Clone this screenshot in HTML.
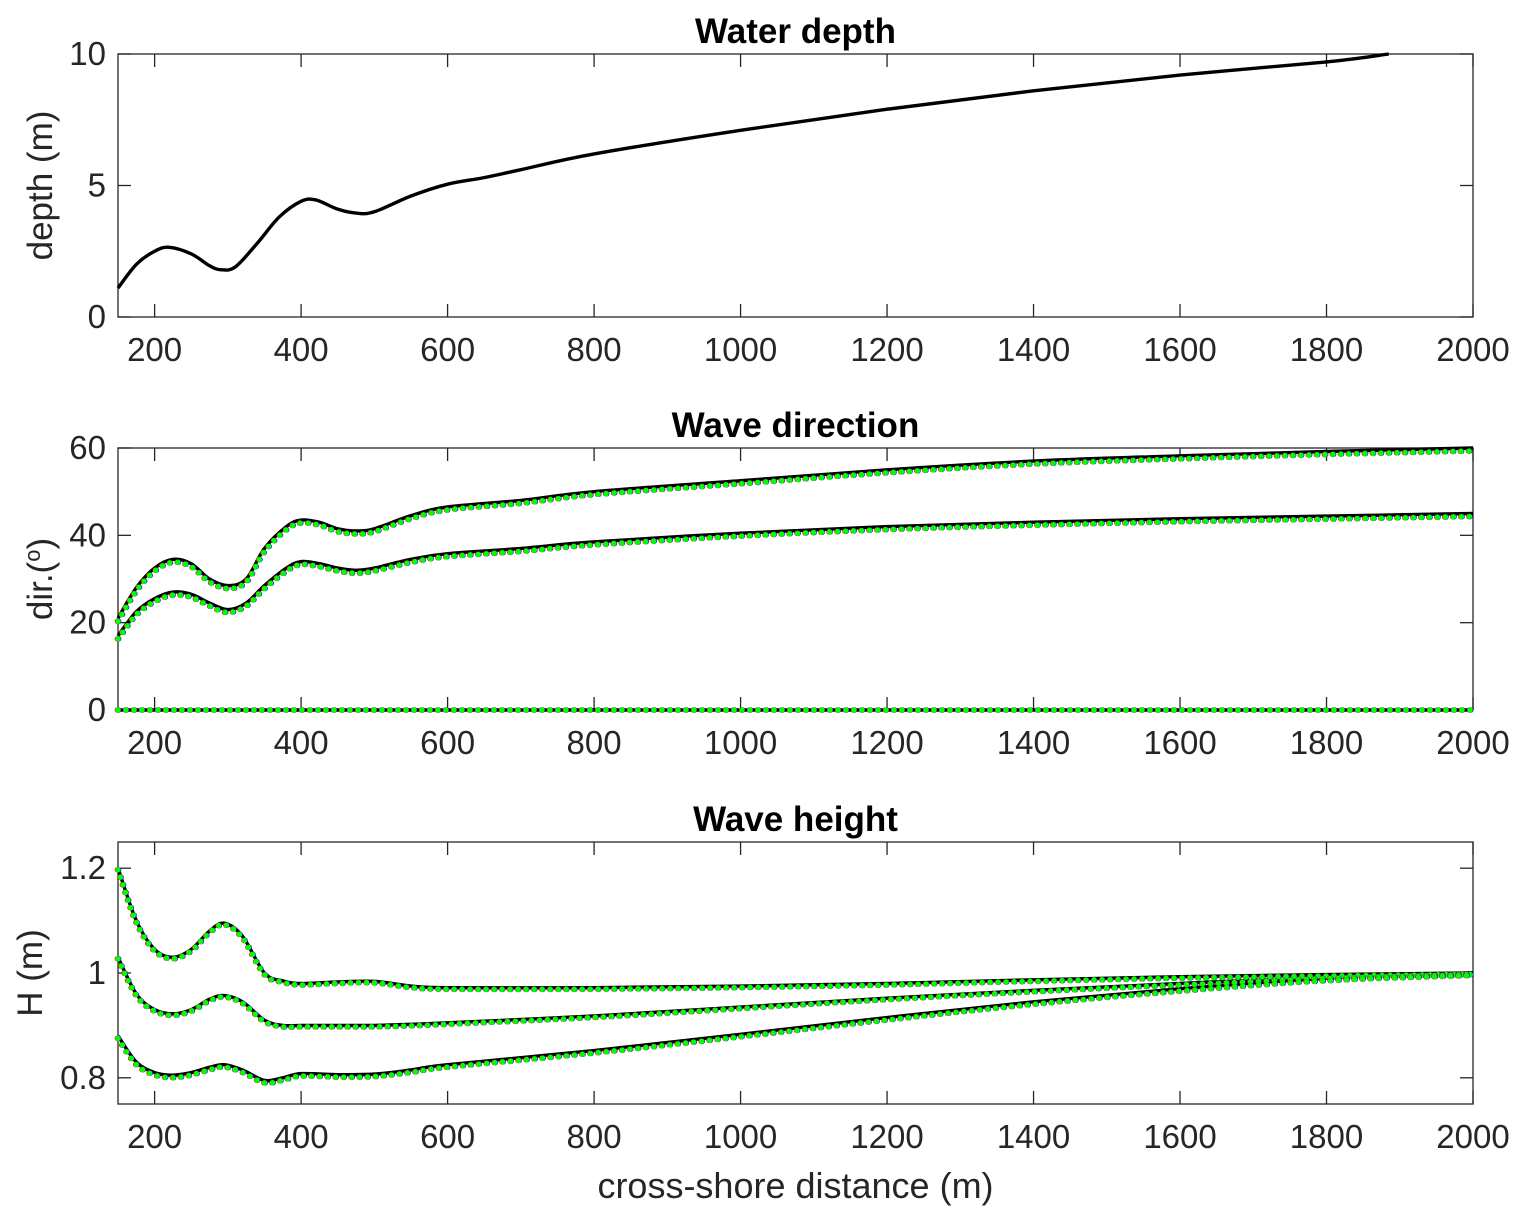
<!DOCTYPE html>
<html><head><meta charset="utf-8">
<style>
body{margin:0;background:#fff;}
svg text{font-family:"Liberation Sans",Arial,sans-serif;fill:#262626;}
</style></head>
<body>
<svg id="fig" width="1527" height="1222" viewBox="0 0 1527 1222" xmlns="http://www.w3.org/2000/svg"></svg>
<script>
// ---- data ----
const xTicks = [200,400,600,800,1000,1200,1400,1600,1800,2000];
const depthX = [150,175,200,220,250,275,290,310,340,370,400,420,450,475,500,550,600,650,700,800,1000,1200,1400,1600,1800,1885];
const depthY = [1.1,2.0,2.5,2.65,2.4,1.95,1.8,1.9,2.8,3.8,4.4,4.45,4.1,3.95,4.0,4.6,5.05,5.3,5.6,6.2,7.1,7.9,8.6,9.2,9.7,10];
const depthTicks = [0,5,10];

const dirX = [150,175,200,225,250,275,300,325,350,380,400,425,450,475,500,550,600,700,800,1000,1200,1400,1600,1800,2000];
const dir60 = [21,28,32.5,34.5,33.5,30,28.5,30,37,42,43.5,43,41.5,41,41.5,44.5,46.5,48,50,52.5,55,57,58.2,59.2,60];
const dir45 = [17,22.5,25.5,27,26.5,24.5,23,24.5,28.5,32.5,34,33.5,32.5,32,32.5,34.5,35.8,37,38.5,40.5,42,43,43.8,44.4,45];
const dir0  = [0,0,0,0,0,0,0,0,0,0,0,0,0,0,0,0,0,0,0,0,0,0,0,0,0];
const dirTicks = [0,20,40,60];

const hX = [150,175,200,225,250,275,295,320,350,375,400,450,500,550,600,800,1000,1200,1400,1600,1800,2000];
const hTop = [1.2,1.1,1.045,1.03,1.045,1.08,1.095,1.07,1.0,0.985,0.98,0.983,0.984,0.975,0.972,0.972,0.975,0.98,0.987,0.993,0.997,1.0];
const hMid = [1.03,0.96,0.93,0.922,0.93,0.95,0.957,0.945,0.91,0.9,0.9,0.9,0.9,0.902,0.905,0.918,0.935,0.952,0.967,0.98,0.992,1.0];
const hBot = [0.88,0.83,0.81,0.805,0.81,0.82,0.825,0.815,0.795,0.8,0.808,0.806,0.807,0.815,0.825,0.852,0.883,0.915,0.945,0.97,0.99,1.0];
const hTicks = [0.8,1,1.2];
const hTickLabels = ['0.8','1','1.2'];

// ---- drawing ----
const NS='http://www.w3.org/2000/svg';
const svg=document.getElementById('fig');
const L=118,R=1473;
const sx=v=>L+(v-150)/(2000-150)*(R-L);
function el(t,a,p){const e=document.createElementNS(NS,t);for(const k in a)e.setAttribute(k,a[k]);(p||svg).appendChild(e);return e;}
function smooth(xs,ys,fx,fy){
  const p=xs.map((x,i)=>[fx(x),fy(ys[i])]);
  let d='M'+p[0][0]+','+p[0][1];
  for(let i=0;i<p.length-1;i++){
    const p0=p[Math.max(0,i-1)],p1=p[i],p2=p[i+1],p3=p[Math.min(p.length-1,i+2)];
    const c1=[p1[0]+(p2[0]-p0[0])/6,p1[1]+(p2[1]-p0[1])/6];
    const c2=[p2[0]-(p3[0]-p1[0])/6,p2[1]-(p3[1]-p1[1])/6];
    d+=`C${c1[0]},${c1[1]} ${c2[0]},${c2[1]} ${p2[0]},${p2[1]}`;
  }
  return d;
}
function panel(name,top,bot,y0,y1,yt,ytl,title,ylabel,labelX){
  const g=el('g',{});
  
  
  const fy=v=>bot-(v-y0)/(y1-y0)*(bot-top);
  const box=el('rect',{x:L,y:top,width:R-L,height:bot-top,fill:'#fff',stroke:'#262626','stroke-width':1.3},g);
  
  
  xTicks.forEach(t=>{
    const x=sx(t);
    el('line',{x1:x,x2:x,y1:bot,y2:bot-13,stroke:'#262626','stroke-width':1.3},g);
    el('line',{x1:x,x2:x,y1:top,y2:top+13,stroke:'#262626','stroke-width':1.3},g);
    const tx=el('text',{x:x,y:bot+44,'font-size':33,'text-anchor':'middle'},g);
    tx.textContent=t;
    
    
  });
  yt.forEach((t,i)=>{
    const y=fy(t);
    el('line',{x1:L,x2:L+13,y1:y,y2:y,stroke:'#262626','stroke-width':1.3},g);
    el('line',{x1:R,x2:R-13,y1:y,y2:y,stroke:'#262626','stroke-width':1.3},g);
    const tx=el('text',{x:L-12,y:y+11,'font-size':33,'text-anchor':'end'},g);
    tx.textContent=ytl?ytl[i]:t;
    
    
  });
  const tt=el('text',{x:(L+R)/2,y:top-11,'font-size':35,'font-weight':'bold','text-anchor':'middle',style:'fill:#000'},g);
  tt.textContent=title;
  
  
  const yl=el('text',{x:labelX,y:(top+bot)/2,'font-size':35,'text-anchor':'middle',transform:`rotate(-90 ${labelX} ${(top+bot)/2})`},g);
  yl.innerHTML=ylabel;
  
  
  return {g,fy};
}
function line(g,xs,ys,fy,name){
  const p=el('path',{d:smooth(xs,ys,sx,fy),fill:'none',stroke:'#000','stroke-width':3.4},g);
  
  
}
function dots(g,xs,ys,fy,name,dy){
  const d=smooth(xs,ys,sx,fy);
  [['#ff0000',-0.6,dy],['#0000ff',0.6,dy],['#00ff00',0,dy]].forEach(([c,dx,oy])=>{
    const p=el('path',{d:d,fill:'none',stroke:c,'stroke-width':5.5,'stroke-linecap':'round','stroke-dasharray':'0 8',transform:`translate(${dx},${oy})`},g);
    
    
  });
}
// Panel 1
const p1=panel('water-depth',54,317,0,10,depthTicks,null,'Water depth','depth (m)',52);
line(p1.g,depthX,depthY,p1.fy,'depth-line');
// Panel 2
const p2=panel('wave-direction',448,710,0,60,dirTicks,null,'Wave direction','dir.(<tspan baseline-shift="super" font-size="22">o</tspan>)',52);
line(p2.g,dirX,dir60,p2.fy,'dir-60-line');
line(p2.g,dirX,dir45,p2.fy,'dir-45-line');
line(p2.g,dirX,dir0,p2.fy,'dir-0-line');
dots(p2.g,dirX,dir60,p2.fy,'dir-60',3);
dots(p2.g,dirX,dir45,p2.fy,'dir-45',3);
dots(p2.g,dirX,dir0,p2.fy,'dir-0',0);
// Panel 3
const p3=panel('wave-height',842,1104,0.75,1.25,hTicks,hTickLabels,'Wave height','H (m)',42);
line(p3.g,hX,hTop,p3.fy,'h-top-line');
line(p3.g,hX,hMid,p3.fy,'h-mid-line');
line(p3.g,hX,hBot,p3.fy,'h-bot-line');
dots(p3.g,hX,hTop,p3.fy,'h-top',1.5);
dots(p3.g,hX,hMid,p3.fy,'h-mid',1.5);
dots(p3.g,hX,hBot,p3.fy,'h-bot',2.5);
const xl=el('text',{x:(L+R)/2,y:1198,'font-size':36,'text-anchor':'middle'});
xl.textContent='cross-shore distance (m)';


</script>
</body></html>
